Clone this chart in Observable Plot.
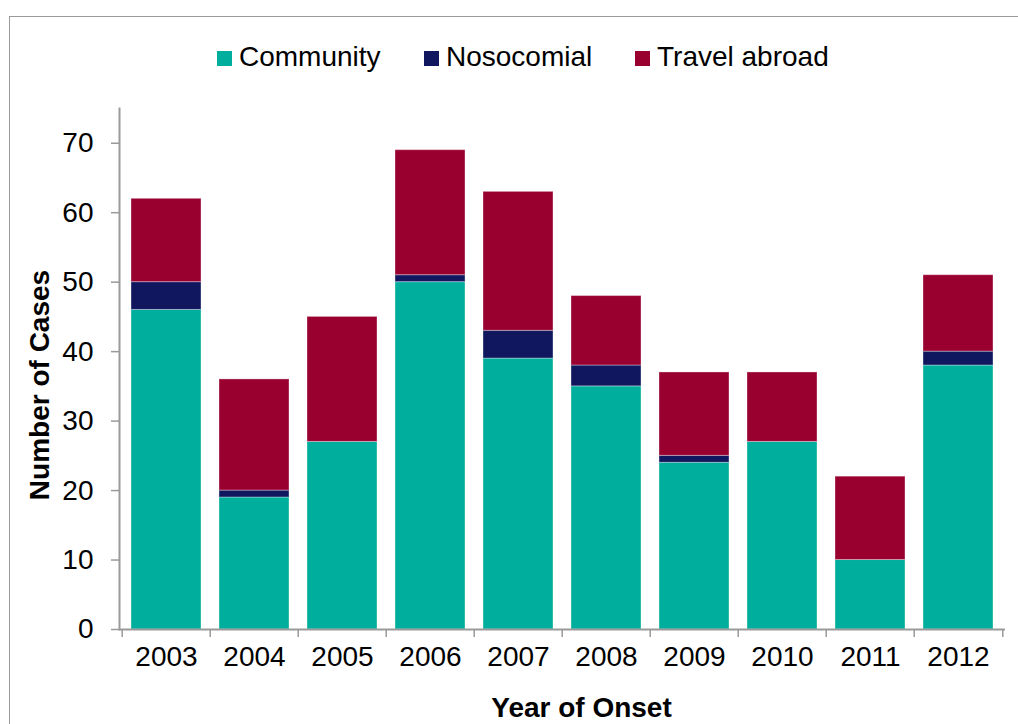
<!DOCTYPE html>
<html>
<head>
<meta charset="utf-8">
<script src="https://cdn.jsdelivr.net/npm/d3@7"></script>
<script src="https://cdn.jsdelivr.net/npm/@observablehq/plot@0.6"></script>
<style>
  html, body { margin: 0; padding: 0; background: #fff; overflow: hidden; }
  #wrap { position: relative; width: 1018px; height: 724px; font-family: "Liberation Sans", Arial, sans-serif; }
  #border { position: absolute; left: 9px; top: 16px; width: 1100px; height: 800px; border: 1.5px solid #9a9a9a; }
  #legend { position: relative; height: 100px; }
  .item { position: absolute; top: 38px; font-size: 28px; line-height: 38px; color: #000; white-space: nowrap; }
  .sw { display: inline-block; width: 15px; height: 15px; margin-right: 7px; vertical-align: 0px; }
  #chart { position: relative; }
</style>
</head>
<body>
<div id="wrap">
  <div id="border"></div>
  <div id="legend"></div>
  <div id="chart"></div>
</div>
<script>
const years = ["2003","2004","2005","2006","2007","2008","2009","2010","2011","2012"];
const community = [46,19,27,50,39,35,24,27,10,38];
const nosocomial = [4,1,0,1,4,3,1,0,0,2];
const travel = [12,16,18,18,20,10,12,10,12,11];
const seriesNames = ["Community","Nosocomial","Travel abroad"];
const seriesColors = ["#00AE9E","#10175E","#990030"];
const yTicks = [0,10,20,30,40,50,60,70];

const seriesValues = [community, nosocomial, travel];
const data = years.flatMap((yr, i) => seriesNames.map((s, k) => ({year: yr, series: s, value: seriesValues[k][i]})));

// legend
const legendX = [217, 424, 635];
const legend = document.getElementById("legend");
seriesNames.forEach((s, k) => {
  const d = document.createElement("div");
  d.className = "item";
  d.style.left = legendX[k] + "px";
  d.innerHTML = `<span class="sw" style="background:${seriesColors[k]}"></span>${s}`;
  legend.appendChild(d);
});

const bw = (1018 - 119 - 13) / years.length;
const fontFamily = "Liberation Sans, Arial, sans-serif";

const chart = Plot.plot({
  width: 1018,
  height: 624,
  marginTop: 8,
  marginBottom: 95,
  marginLeft: 119,
  marginRight: 13,
  style: {fontFamily, fontSize: "28px", color: "#000", background: "transparent", overflow: "visible"},
  x: {domain: years, paddingInner: 0.2, paddingOuter: 0.1, label: null},
  y: {domain: [0, 75], label: null},
  color: {domain: seriesNames, range: seriesColors},
  marks: [
    Plot.barY(data, {x: "year", y: "value", fill: "series", stroke: "white", strokeOpacity: 0.35, strokeWidth: 1}),
    Plot.frame({anchor: "left", stroke: "#9a9a9a", strokeWidth: 2}),
    Plot.ruleY([0], {stroke: "#9a9a9a", strokeWidth: 2}),
    Plot.axisY({ticks: yTicks, tickSize: 8, tickPadding: 18, fontSize: 28, stroke: "#9a9a9a", strokeWidth: 1.5, label: null}),
    Plot.axisX({tickSize: 0, tickPadding: 17, fontSize: 28, label: null}),
    Plot.axisX({tickSize: 8, tickFormat: () => "", dx: -bw / 2, stroke: "#9a9a9a", strokeWidth: 1.5, label: null}),
    Plot.axisX({ticks: [years[years.length - 1]], tickSize: 8, tickFormat: () => "", dx: bw / 2, stroke: "#9a9a9a", strokeWidth: 1.5, label: null}),
    Plot.text(["Number of Cases"], {frameAnchor: "left", textAnchor: "middle", rotate: -90, dx: -79, dy: 16, fontSize: 28, fontWeight: "bold", fill: "#000"}),
    Plot.text(["Year of Onset"], {frameAnchor: "bottom", dx: 19, dy: 87, fontSize: 28, fontWeight: "bold", fill: "#000"})
  ]
});
document.getElementById("chart").appendChild(chart);
</script>
</body>
</html>
